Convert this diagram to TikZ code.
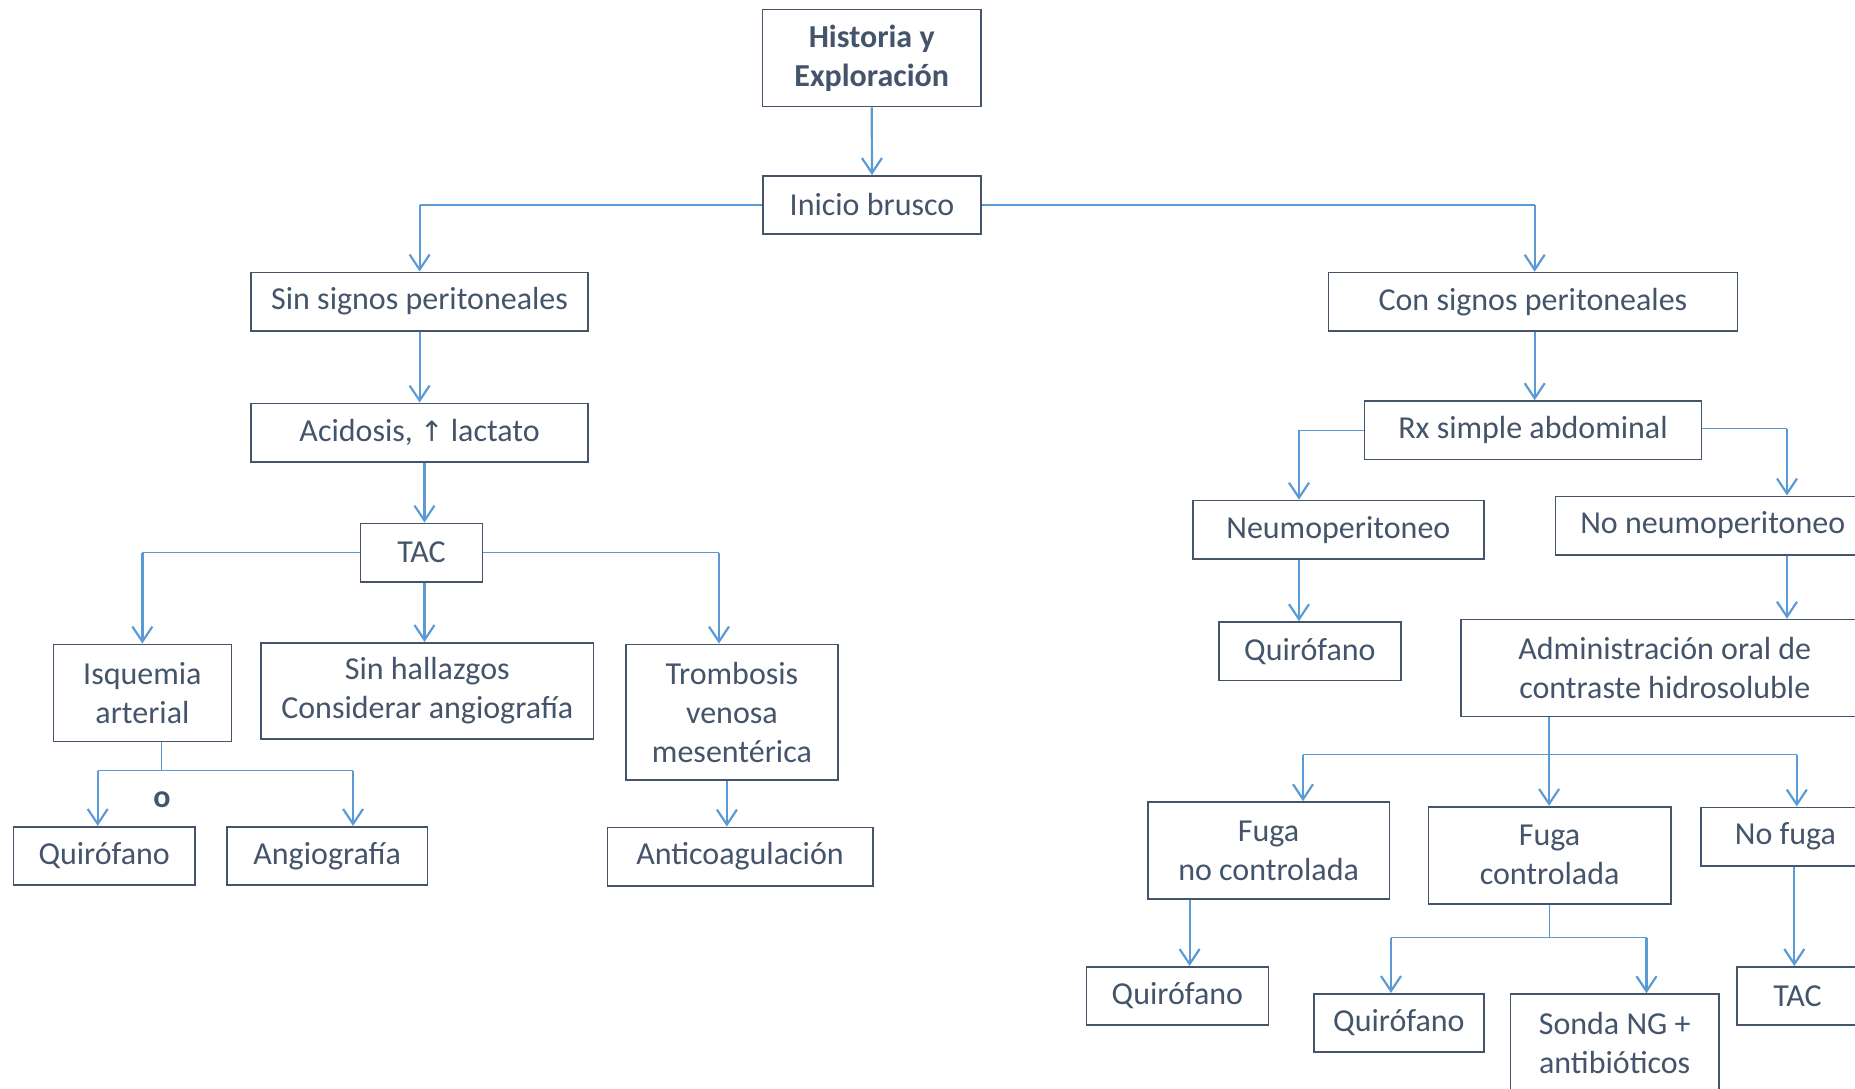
\documentclass[tikz,border=0pt]{standalone}
\usepackage{fontspec}
\setmainfont{Carlito}
\newfontfamily\flechafont{DejaVu Sans}
\usetikzlibrary{arrows.meta}
\definecolor{boxline}{HTML}{44546A}
\definecolor{linkblue}{HTML}{5B9BD5}
\newcommand{\cajafont}{\fontsize{32}{39}\selectfont}
\tikzset{
	caja/.style={draw=boxline, line width=1.6pt, text=boxline, align=center,
		inner sep=0pt, minimum height=58.4pt, font=\cajafont},
	doble/.style={minimum height=97pt},
	flecha/.style={draw=linkblue, line width=2.2pt,
		-{Straight Barb[length=15pt,width=20pt,line width=2.2pt]}},
	rama/.style={draw=linkblue, line width=1.3pt},
}
\begin{document}
\begin{tikzpicture}[x=1pt,y=-1pt]
		\useasboundingbox (0,0) rectangle (1855,1088);
		% top
		\node[caja,doble,minimum width=218.7pt,font=\cajafont\bfseries] (hist) at (871.7,58) {Historia y\\Exploración};
		\node[caja,minimum width=218pt] (inicio) at (872,205) {Inicio brusco};
		
		% left branch
		\node[caja,minimum width=337.3pt] (sinsig) at (419.6,301.5) {Sin signos peritoneales};
		\node[caja,minimum width=337.3pt] (acid) at (419.6,432.5) {Acidosis, {\flechafont\fontsize{28}{39}\selectfont ↑} lactato};
		\node[caja,minimum width=121.7pt] (tac1) at (421.5,552.6) {TAC};
		\node[caja,doble,minimum width=178pt] (isq) at (142.4,692.8) {Isquemia\\arterial};
		\node[caja,doble,minimum width=332.5pt,minimum height=96.3pt] (sinhal) at (427.3,690.9) {Sin hallazgos\\Considerar angiografía};
		\node[caja,minimum width=211.7pt,minimum height=135.7pt] (tromb) at (731.9,712.2) {Trombosis\\venosa\\mesentérica};
		\node[caja,minimum width=265.4pt] (anticoag) at (740,856.5) {Anticoagulación};
		\node[caja,minimum width=181.6pt] (quir1) at (104.2,855.9) {Quirófano};
		\node[caja,minimum width=200.4pt] (angio) at (327.2,855.9) {Angiografía};
		\node[text=boxline,inner sep=0pt,font=\cajafont\bfseries] (o) at (162,800) {o};
		
		% right branch
		\node[caja,minimum width=409.2pt] (consig) at (1532.9,301.7) {Con signos peritoneales};
		\node[caja,minimum width=336.7pt] (rx) at (1533,430.2) {Rx simple abdominal};
		\node[caja,minimum width=291.2pt] (neumo) at (1338.3,529.7) {Neumoperitoneo};
		\node[caja,minimum width=314.5pt] (noneumo) at (1712.7,525.5) {No neumoperitoneo};
		\node[caja,minimum width=181.9pt] (quir2) at (1309.9,651.2) {Quirófano};
		\node[caja,doble,minimum width=407.4pt] (admin) at (1664.8,668) {Administración oral de\\contraste hidrosoluble};
		\node[caja,doble,minimum width=241.7pt] (fnc) at (1268.6,850.5) {Fuga\\no controlada};
		\node[caja,doble,minimum width=242.2pt] (fc) at (1549.6,855.2) {Fuga\\controlada};
		\node[caja,minimum width=169pt] (nofuga) at (1785.4,836.5) {No fuga};
		\node[caja,minimum width=181.9pt] (quir3) at (1177.4,996) {Quirófano};
		\node[caja,minimum width=170.1pt] (quir4) at (1398.9,1023) {Quirófano};
		\node[caja,doble,minimum width=208.1pt] (sonda) at (1614.7,1042.5) {Sonda NG +\\antibióticos};
		\node[caja,minimum width=121pt] (tac2) at (1797.5,996) {TAC};
		
		% junctions
		\coordinate (k1) at (419.6,205);
		\coordinate (k2) at (1534.7,205);
		\coordinate (k3) at (719,550);
		\coordinate (j1) at (97.7,770.7);
		\coordinate (j2) at (353.1,770.7);
		\coordinate (k6) at (1299,430.2);
		\coordinate (k7) at (1787,428.5);
		\coordinate (k8) at (1549.1,754.7);
		\coordinate (j3) at (1303,754.7);
		\coordinate (j4) at (1796.8,754.7);
		\coordinate (j5) at (1391,937.7);
		\coordinate (j6) at (1646.5,937.7);
		
		% links, top and left
		\draw[flecha] (hist.south) -- (inicio.north);
		\draw[rama] (inicio.west) -- (k1);
		\draw[flecha] (k1) -- (sinsig.north);
		\draw[rama] (inicio.east) -- (k2);
		\draw[flecha] (k2) -- (k2 |- consig.north);
		\draw[flecha] (sinsig.south) -- (acid.north);
		\draw[flecha] ([xshift=3pt]tac1.north |- acid.south) -- ([xshift=3pt]tac1.north);
		\draw[rama] (tac1.west) -- (tac1.west -| isq.north);
		\draw[flecha] (tac1.west -| isq.north) -- (isq.north);
		\draw[flecha] ([xshift=3pt]tac1.south) -- ([xshift=3pt]tac1.south |- sinhal.north);
		\draw[rama] (tac1.east) -- (tac1.east -| k3);
		\draw[flecha] (tac1.east -| k3) -- (k3 |- tromb.north);
		\draw[flecha] ([xshift=-5pt]tromb.south) -- ([xshift=-5pt]tromb.south |- anticoag.north);
		\draw[rama] ([xshift=19pt]isq.south) |- (j1);
		\draw[rama] (j1) -- (j2);
		\draw[flecha] (j1) -- (j1 |- quir1.north);
		\draw[flecha] (j2) -- (j2 |- angio.north);
		
		% links, right
		\draw[flecha] (k2 |- consig.south) -- (k2 |- rx.north);
		\draw[rama] (rx.west) -- (k6);
		\draw[flecha] (k6) -- (k6 |- neumo.north);
		\draw[rama] (rx.east |- k7) -- (k7);
		\draw[flecha] (k7) -- (k7 |- noneumo.north);
		\draw[flecha] (k6 |- neumo.south) -- (k6 |- quir2.north);
		\draw[flecha] (k7 |- noneumo.south) -- (k7 |- admin.north);
		\draw[rama] (k8 |- admin.south) -- (k8);
		\draw[rama] (j3) -- (j4);
		\draw[flecha] (j3) -- (j3 |- fnc.north);
		\draw[flecha] (k8) -- (k8 |- fc.north);
		\draw[flecha] (j4) -- (j4 |- nofuga.north);
		\draw[flecha] ([xshift=-79pt]fnc.south) -- ([xshift=-79pt]fnc.south |- quir3.north);
		\draw[rama] (fc.south) |- (j5);
		\draw[rama] (j5) -- (j6);
		\draw[flecha] (j5) -- (j5 |- quir4.north);
		\draw[flecha] (j6) -- (j6 |- sonda.north);
		\draw[flecha] ([xshift=-2.5pt]j4 |- nofuga.south) -- ([xshift=-2.5pt]j4 |- tac2.north);
\end{tikzpicture}
\end{document}
